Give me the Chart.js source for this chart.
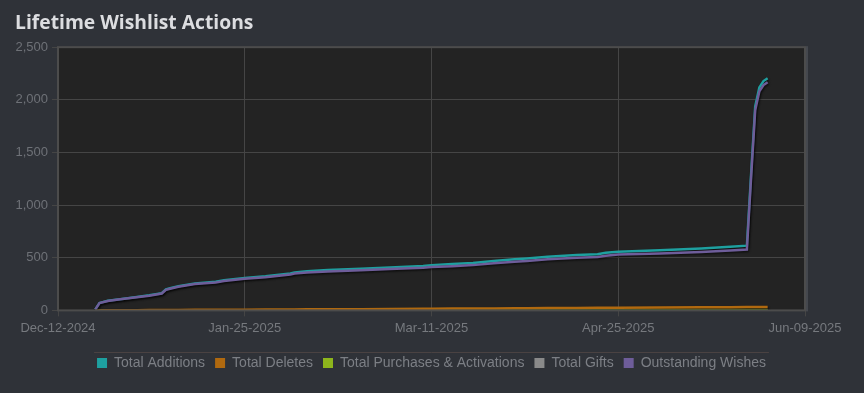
<!DOCTYPE html>
<html><head><meta charset="utf-8">
<script src="https://cdn.jsdelivr.net/npm/chart.js@4/dist/chart.umd.min.js"></script>
<style>
html,body{margin:0;padding:0;background:#2f3238;}
#wrap{width:864px;height:393px;position:relative;}
</style></head>
<body><div id="wrap"><canvas id="c" width="864" height="393"></canvas></div>
<script>
const chartTitle = 'Lifetime Wishlist Actions';
const xTickLabels = ['Dec-12-2024','Jan-25-2025','Mar-11-2025','Apr-25-2025','Jun-09-2025'];
const seriesNames = ['Total Additions','Total Deletes','Total Purchases & Activations','Total Gifts','Outstanding Wishes'];
// days since Dec-12-2024
const days = [9,10,12,15,19,22,25,26,27,29,33,38,40,45,50,56,57,60,65,73,80,88,90,95,100,105,110,113,118,125,130,132,135,145,155,162,166,167,168,169,170,171];
const totalAdditions = [10,70,91,106,127,143,163,199,210,230,256,272,287,308,324,351,361,372,383,396,408,422,430,440,451,470,485,494,510,526,534,548,558,571,589,604,615,1287,1938,2118,2178,2205];
const totalDeletes = [0,0,1,1,2,3,3,3,4,4,5,6,6,7,8,9,9,10,11,12,14,15,16,17,18,19,20,21,22,23,24,25,25,27,29,31,32,32,33,33,33,33];
const totalPurchases = [0,0,0,0,0,0,0,1,1,1,1,1,1,1,1,2,2,2,2,2,2,2,2,3,3,3,3,3,3,3,3,3,3,3,4,4,4,4,4,4,4,4];
const totalGifts = [0,0,0,0,0,0,0,0,0,0,0,0,0,0,0,0,0,0,0,0,0,0,0,0,0,0,0,0,0,0,0,0,0,1,1,1,1,1,1,1,1,1];
const outstandingWishes = [10,70,90,105,125,140,160,195,205,225,250,265,280,300,315,340,350,360,370,382,392,405,412,420,430,448,462,470,485,500,507,520,530,540,555,568,578,1250,1900,2080,2140,2167];

const colors = ['#1ea0a0','#b0690f','#8db51c','#8a8a8a','#6e5d9a'];
const valuesList = [totalAdditions,totalDeletes,totalPurchases,totalGifts,outstandingWishes];
const orders = [5,2,3,4,1];

const datasets = seriesNames.map((n,i)=>({
  label:n,
  data: days.map((d,j)=>({x:d,y:valuesList[i][j]})),
  borderColor: colors[i],
  backgroundColor: colors[i],
  borderWidth: 2.5,
  pointRadius: 0,
  tension: 0,
  fill: false,
  order: orders[i]
}));

const bgPlugin = {
  id:'bgp',
  beforeDraw(chart){
    const {ctx, chartArea:a} = chart;
    ctx.save(); ctx.fillStyle='#232323'; ctx.fillRect(a.left,a.top,a.right-a.left,a.bottom-a.top); ctx.restore();
  },
  beforeDatasetDraw(chart){
    const ctx = chart.ctx; ctx.save();
    ctx.shadowColor='rgba(0,0,0,0.55)'; ctx.shadowOffsetX=1; ctx.shadowOffsetY=1.5; ctx.shadowBlur=2;
  },
  afterDatasetDraw(chart){ chart.ctx.restore(); },
  afterDraw(chart){
    const {ctx, chartArea:a} = chart;
    ctx.save();
    ctx.strokeStyle='#4c4c4c'; ctx.lineWidth=2;
    ctx.strokeRect(a.left,a.top,a.right-a.left,a.bottom-a.top);
    ctx.fillStyle='#45484e'; ctx.fillRect(a.right+1,a.top-1,2,a.bottom-a.top+2);
    const lg = chart.legend;
    if(lg && lg.legendHitBoxes.length){
      const hb = lg.legendHitBoxes;
      const x0 = hb[0].left-3, x1 = hb[hb.length-1].left+hb[hb.length-1].width+3;
      ctx.strokeStyle='#4a4242'; ctx.lineWidth=1;
      ctx.beginPath(); ctx.moveTo(x0,352.5); ctx.lineTo(x1,352.5); ctx.stroke();
    }
    ctx.restore();
  }
};

new Chart(document.getElementById('c'),{
  type:'line',
  data:{datasets},
  options:{
    responsive:false, animation:false,
    layout:{padding:{left:15,right:59,top:0,bottom:13}},
    plugins:{
      title:{display:true,text:chartTitle,align:'start',color:'#dcdde0',
        font:{family:'"Open Sans", sans-serif',size:19.3,weight:'bold'},padding:{top:12,bottom:12}},
      legend:{position:'bottom',fullSize:false,
        labels:{color:'#7c7f85',boxWidth:10,boxHeight:10,padding:10,
          font:{family:'"Liberation Sans", Arial, sans-serif',size:14},
          sort:(a,b)=>a.datasetIndex-b.datasetIndex,
          generateLabels(chart){
            return chart.data.datasets.map((d,i)=>({text:d.label,fillStyle:d.borderColor,strokeStyle:d.borderColor,lineWidth:0,fontColor:'#7c7f85',datasetIndex:i,hidden:false}));
          }}},
      tooltip:{enabled:false}
    },
    scales:{
      x:{type:'linear',min:0,max:180,
        afterBuildTicks(s){ s.ticks = xTickLabels.map((l,i)=>({value:i*45})); },
        afterFit(s){ s.height += 6; },
        ticks:{color:'#76797e',font:{family:'"Liberation Sans", Arial, sans-serif',size:13},padding:4,maxRotation:0,
          callback:(v)=>xTickLabels[Math.round(v/45)]},
        grid:{color:'#454545',tickLength:6,tickColor:'#454545'},
        border:{display:false}
      },
      y:{min:0,max:2500,
        afterFit(s){ s.width = 43; },
        ticks:{stepSize:500,color:'#6e7177',font:{family:'"Liberation Sans", Arial, sans-serif',size:13},padding:4,
          callback:(v)=>v.toLocaleString('en-US')},
        grid:{color:'#454545',tickLength:6,tickColor:'#454545'},
        border:{display:false}
      }
    }
  },
  plugins:[bgPlugin]
});
</script>
</body></html>
